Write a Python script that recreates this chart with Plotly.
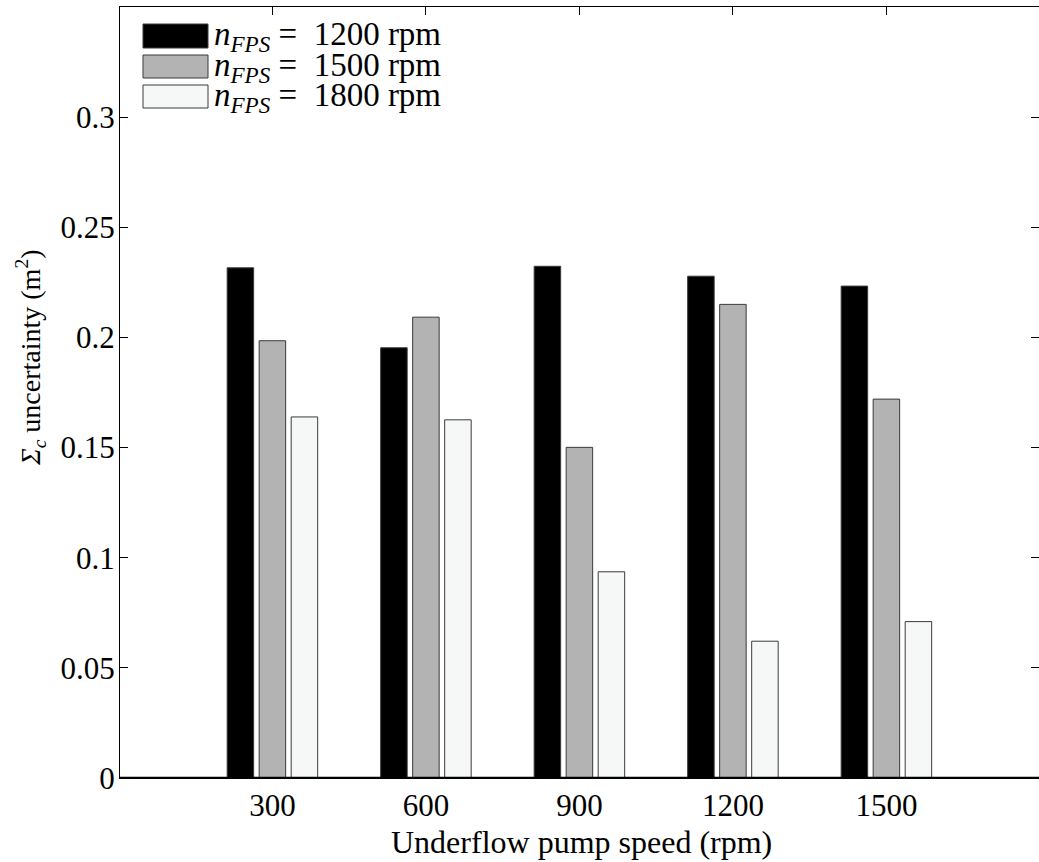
import plotly.graph_objects as go

# ---- data ----
categories = ["300", "600", "900", "1200", "1500"]
series_names = ["n_FPS = 1200 rpm", "n_FPS = 1500 rpm", "n_FPS = 1800 rpm"]
rpm_labels = ["1200", "1500", "1800"]
values_1200 = [0.2316, 0.1953, 0.2323, 0.2278, 0.2233]
values_1500 = [0.1985, 0.2092, 0.1501, 0.2150, 0.1720]
values_1800 = [0.1639, 0.1626, 0.0936, 0.0621, 0.0710]
y_ticks = [0, 0.05, 0.1, 0.15, 0.2, 0.25, 0.3]
y_tick_labels = ["0", "0.05", "0.1", "0.15", "0.2", "0.25", "0.3"]

# ---- style / layout ----
W, H = 1039, 862
ML, MR, MT, MB = 120, 0, 7, 84
FONT = "Liberation Serif"
fills = ["#000000", "#b3b3b3", "#f6f8f7"]
edge = "#3a3a3a"
series = [values_1200, values_1500, values_1800]
xpos = list(range(1, len(categories) + 1))

fig = go.Figure()
for name, vals, col in zip(series_names, series, fills):
    fig.add_trace(go.Bar(
        x=xpos, y=vals, name=name,
        marker=dict(color=col, line=dict(color=edge, width=1)),
        showlegend=False,
    ))

pw = W - ML - MR
ph = H - MT - MB


def page_to_paper(x, y):
    return (x - ML) / pw, (H - MB - y) / ph


shapes = []
annotations = []
# custom legend with large swatches (as in the reference)
sw_rows = [(24, 48), (55, 78), (85, 108)]
for (y0, y1), col, rpm in zip(sw_rows, fills, rpm_labels):
    x0p, y0p = page_to_paper(143, y1)
    x1p, y1p = page_to_paper(208, y0)
    shapes.append(dict(type="rect", xref="paper", yref="paper", x0=x0p, x1=x1p, y0=y0p, y1=y1p,
                       fillcolor=col, line=dict(color=edge, width=1), layer="above"))
    tx, ty = page_to_paper(212, (y0 + y1) / 2 + 1)
    lab = "<i>n</i><sub><i>FPS</i></sub> =&nbsp; " + rpm + " rpm"
    annotations.append(dict(xref="paper", yref="paper", x=tx, y=ty, xanchor="left", yanchor="middle",
                            text=lab, showarrow=False,
                            font=dict(family=FONT, size=33, color="black")))

# y-axis title
tx, ty = page_to_paper(30, 358)
annotations.append(dict(xref="paper", yref="paper", x=tx, y=ty, xanchor="center", yanchor="middle",
                        text="<i>Σ</i><sub><i>c</i></sub> uncertainty (m<sup>2</sup>)", textangle=-90,
                        showarrow=False, font=dict(family=FONT, size=28, color="black")))

# x-axis title
tx, ty = page_to_paper(581, 842)
annotations.append(dict(xref="paper", yref="paper", x=tx, y=ty, xanchor="center", yanchor="middle",
                        text="Underflow pump speed (rpm)", showarrow=False,
                        font=dict(family=FONT, size=32, color="black")))

# thicker zero baseline
shapes.append(dict(type="line", xref="paper", yref="y", x0=0, x1=1, y0=0, y1=0,
                   line=dict(color="black", width=2.5), layer="above"))

fig.update_layout(
    width=W, height=H,
    margin=dict(l=ML, r=MR, t=MT, b=MB, pad=0, autoexpand=False),
    paper_bgcolor="white", plot_bgcolor="white",
    barmode="group", bargap=0.3745, bargroupgap=0.172,
    font=dict(family=FONT, size=31, color="black"),
    shapes=shapes, annotations=annotations,
    xaxis=dict(
        range=[0.007, 5.994], tickmode="array", tickvals=xpos, ticktext=categories,
        showline=True, linecolor="black", linewidth=1, mirror="ticks",
        ticks="inside", ticklen=8, tickcolor="black", showgrid=False, zeroline=False,
        layer="below traces", automargin=False,
        tickfont=dict(family=FONT, size=31),
    ),
    yaxis=dict(
        range=[0, 0.35], tickmode="array", tickvals=y_ticks, ticktext=y_tick_labels,
        showline=True, linecolor="black", linewidth=1, mirror="ticks",
        ticks="inside", ticklen=8, tickcolor="black", showgrid=False, zeroline=False,
        layer="below traces", ticklabelstandoff=-2, automargin=False,
        tickfont=dict(family=FONT, size=31),
    ),
)

fig.write_html(
    "out.html",
    config={"displayModeBar": False},
    post_script="document.body.style.margin='0';document.body.style.overflow='hidden';",
)
